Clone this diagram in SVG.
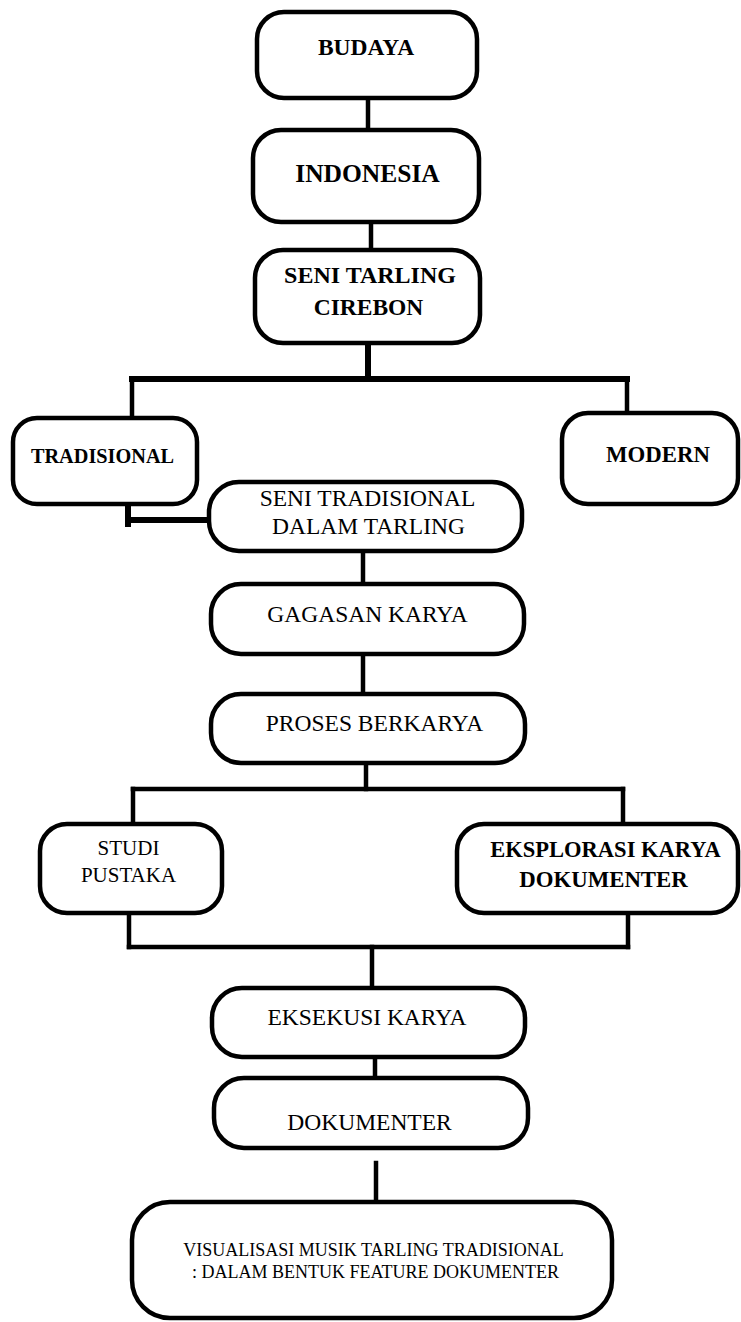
<svg xmlns="http://www.w3.org/2000/svg" width="741" height="1322" viewBox="0 0 741 1322">
<style>
.box{fill:#fff;stroke:#000;stroke-width:4.5}
.c{stroke:#000;fill:none;stroke-width:4.5;stroke-linecap:square}
.ct{stroke:#000;fill:none;stroke-width:6;stroke-linecap:square}
text{font-family:"Liberation Serif","Times New Roman",serif;fill:#000;text-anchor:middle}
.b{font-weight:bold}
.r{font-size:23.5px}
</style>
<rect width="741" height="1322" fill="#fff"/>
<g id="connectors">
<line class="c" x1="368" y1="98" x2="368" y2="130"/>
<line class="c" x1="371" y1="222" x2="371" y2="250"/>
<line class="ct" x1="368" y1="343" x2="368" y2="379"/>
<line class="ct" x1="132" y1="379" x2="627" y2="379"/>
<line class="c" x1="132" y1="379" x2="132" y2="416"/>
<line class="c" x1="627" y1="379" x2="627" y2="412"/>
<line class="ct" x1="128" y1="504" x2="128" y2="524"/>
<line class="ct" x1="128" y1="520" x2="209" y2="520"/>
<line class="c" x1="363" y1="551" x2="363" y2="584"/>
<line class="c" x1="363" y1="654" x2="363" y2="694"/>
<line class="c" x1="366" y1="763" x2="366" y2="789"/>
<line class="c" x1="133" y1="789" x2="623" y2="789"/>
<line class="c" x1="133" y1="789" x2="133" y2="824"/>
<line class="c" x1="623" y1="789" x2="623" y2="824"/>
<line class="c" x1="129" y1="913" x2="129" y2="947"/>
<line class="c" x1="628" y1="913" x2="628" y2="947"/>
<line class="c" x1="129" y1="947" x2="628" y2="947"/>
<line class="c" x1="372" y1="947" x2="372" y2="988"/>
<line class="c" x1="375" y1="1057" x2="375" y2="1078"/>
<line class="c" x1="376" y1="1163" x2="376" y2="1202"/>
</g>
<g id="budaya">
<rect class="box" x="257" y="12" width="220" height="86" rx="27"/>
<text class="b" x="366" y="55" font-size="23.5">BUDAYA</text>
</g>
<g id="indonesia">
<rect class="box" x="253" y="130" width="226" height="92" rx="28"/>
<text class="b" x="367.5" y="182" font-size="25.5">INDONESIA</text>
</g>
<g id="seni-tarling">
<rect class="box" x="255" y="250" width="225" height="93" rx="28"/>
<text class="b" x="370" y="283" font-size="24">SENI TARLING</text>
<text class="b" x="368.5" y="315" font-size="23.5">CIREBON</text>
</g>
<g id="tradisional">
<rect class="box" x="13" y="418" width="184" height="86" rx="24"/>
<text class="b" x="102.5" y="463" font-size="20.3">TRADISIONAL</text>
</g>
<g id="modern">
<rect class="box" x="562" y="413" width="176" height="91" rx="26"/>
<text class="b" x="658" y="462" font-size="22.8">MODERN</text>
</g>
<g id="seni-tradisional">
<rect class="box" x="209" y="482" width="313" height="69" rx="30"/>
<text class="r" x="367.5" y="506">SENI TRADISIONAL</text>
<text class="r" x="368.5" y="534">DALAM TARLING</text>
</g>
<g id="gagasan">
<rect class="box" x="211" y="584" width="313" height="70" rx="30"/>
<text class="r" x="367.5" y="622">GAGASAN KARYA</text>
</g>
<g id="proses">
<rect class="box" x="211" y="694" width="314" height="69" rx="30"/>
<text class="r" x="374.5" y="731">PROSES BERKARYA</text>
</g>
<g id="studi">
<rect class="box" x="40" y="824" width="182" height="89" rx="27"/>
<text x="128.5" y="855" font-size="21">STUDI</text>
<text x="128.5" y="882" font-size="21">PUSTAKA</text>
</g>
<g id="eksplorasi">
<rect class="box" x="457" y="824" width="281" height="89" rx="27"/>
<text class="b" x="605.5" y="857" font-size="22.5">EKSPLORASI KARYA</text>
<text class="b" x="603.5" y="887" font-size="22.8">DOKUMENTER</text>
</g>
<g id="eksekusi">
<rect class="box" x="212" y="988" width="313" height="69" rx="30"/>
<text class="r" x="367" y="1025">EKSEKUSI KARYA</text>
</g>
<g id="dokumenter">
<rect class="box" x="214" y="1078" width="314" height="70" rx="30"/>
<text class="r" x="369.5" y="1130">DOKUMENTER</text>
</g>
<g id="visualisasi">
<rect class="box" x="132" y="1202" width="480" height="116" rx="38"/>
<text x="373.5" y="1256" font-size="18">VISUALISASI MUSIK TARLING TRADISIONAL</text>
<text x="375.5" y="1278" font-size="18">: DALAM BENTUK FEATURE DOKUMENTER</text>
</g>
</svg>
